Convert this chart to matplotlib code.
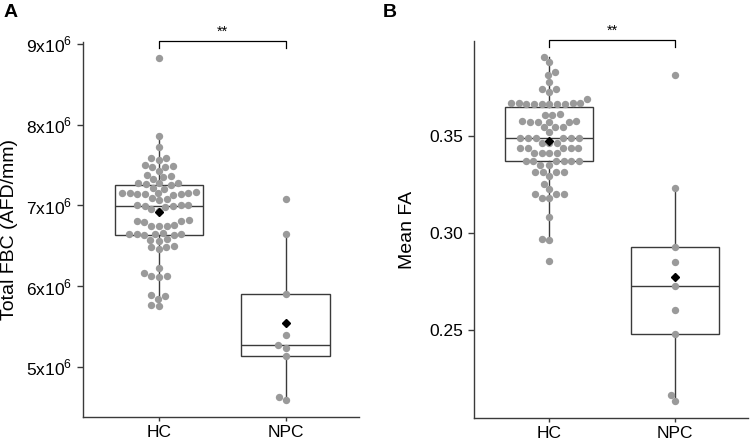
import matplotlib
matplotlib.use("Agg")
import matplotlib.pyplot as plt
import matplotlib.transforms as mtransforms
import numpy as np
import pandas as pd
import seaborn as sns

plt.rcParams['font.family'] = ['Liberation Sans', 'DejaVu Sans']
plt.rcParams['mathtext.fontset'] = 'custom'
plt.rcParams['mathtext.rm'] = 'Liberation Sans'

groups = ["HC", "NPC"]

# Panel A: total FBC, in units of 1e6
fbc_hc = [8.82, 7.855, 7.72, 7.59, 7.58, 7.56, 7.50, 7.49, 7.48, 7.47, 7.43,
          7.37, 7.36, 7.35, 7.33, 7.28, 7.27, 7.27, 7.26, 7.25, 7.22, 7.20,
          7.16, 7.15, 7.15, 7.15, 7.15, 7.14, 7.14, 7.14, 7.13, 7.09, 7.08, 7.06,
          7.01, 7.00, 7.00, 6.99, 6.99, 6.98, 6.95, 6.93, 6.82, 6.81, 6.80, 6.79,
          6.76, 6.75, 6.75, 6.74, 6.66, 6.65, 6.65, 6.64, 6.64, 6.63, 6.63,
          6.58, 6.57, 6.56, 6.50, 6.49, 6.48, 6.46, 6.22, 6.16, 6.13, 6.12, 6.11,
          5.89, 5.88, 5.84, 5.76, 5.75]
fbc_npc = [7.08, 6.65, 5.90, 5.40, 5.27, 5.24, 5.14, 4.63, 4.59]

# Panel B: mean FA
fa_hc = [0.3906, 0.388, 0.3831, 0.3814, 0.3777, 0.3745, 0.3745, 0.3728, 0.369,
         0.3672, 0.3670, 0.3669, 0.3668, 0.3667, 0.3666, 0.3666, 0.3665, 0.3664, 0.3663,
         0.361, 0.3608, 0.3612,
         0.3574, 0.3575, 0.3573, 0.3572, 0.3576, 0.3574,
         0.3548, 0.3547, 0.3549, 0.3522,
         0.349, 0.3489, 0.3491, 0.3488, 0.3492, 0.349,
         0.3464, 0.3463, 0.3465,
         0.3437, 0.3436, 0.3438, 0.3437, 0.3439,
         0.3411, 0.3410, 0.3412, 0.3411,
         0.3371, 0.3370, 0.3372, 0.3371, 0.3369, 0.3373,
         0.335, 0.3349, 0.3316, 0.3315, 0.3317, 0.3316, 0.3295,
         0.3251, 0.3225, 0.32, 0.3201, 0.3199, 0.3179, 0.318, 0.3084,
         0.2967, 0.2966, 0.2854]
fa_npc = [0.3816, 0.3234, 0.2929, 0.2849, 0.2727, 0.2603, 0.2478, 0.2165, 0.2134]

fbc_ticks = [5, 6, 7, 8, 9]
fa_ticks = [0.25, 0.30, 0.35]

point_col = "#9a9a9a"
line_col = "#3a3a3a"

fig = plt.figure(figsize=(7.5, 4.4), dpi=100)
axA = fig.add_axes([0.1107, 0.0523, 0.368, 0.852])
axB = fig.add_axes([0.632, 0.05, 0.3653, 0.8568])


def panel(ax, hc, npc, ylim, ticks, ticklabels, ylabel, label_x):
    df = pd.DataFrame({"group": ["HC"] * len(hc) + ["NPC"] * len(npc),
                       "value": hc + npc})
    ax.boxplot([hc, npc], positions=[0, 1], widths=0.7, showfliers=False,
               whis=1.5, patch_artist=True, zorder=1,
               boxprops=dict(facecolor="white", edgecolor=line_col, linewidth=1),
               medianprops=dict(color=line_col, linewidth=1),
               whiskerprops=dict(color=line_col, linewidth=1),
               capprops=dict(linewidth=0))
    sns.swarmplot(data=df, x="group", y="value", order=groups, color=point_col,
                  size=5.3, ax=ax, zorder=3, linewidth=0)
    ax.plot([0, 1], [np.mean(hc), np.mean(npc)], linestyle="none", marker="D",
            color="black", markersize=4.5, zorder=4)
    ax.set_xlim(-0.6, 1.58)
    ax.set_ylim(*ylim)
    ax.set_yticks(ticks)
    ax.set_yticklabels(ticklabels)
    ax.set_xticks([0, 1])
    ax.set_xticklabels(groups)
    ax.set_xlabel("")
    ax.set_ylabel(ylabel, fontsize=14)
    ax.yaxis.set_label_coords(label_x, 0.5)
    for s in ["top", "right"]:
        ax.spines[s].set_visible(False)
    for s in ["left", "bottom"]:
        ax.spines[s].set_color(line_col)
        ax.spines[s].set_linewidth(1)
    ax.tick_params(axis="y", length=4, width=1, color=line_col, labelsize=12.5, pad=4)
    ax.tick_params(axis="x", length=3, width=1, color=line_col, labelsize=12.5, pad=3)
    # significance bracket
    tr = mtransforms.blended_transform_factory(ax.transData, ax.transAxes)
    ax.plot([0, 0, 1, 1], [0.983, 1.0035, 1.0035, 0.983], color="black",
            linewidth=0.9, transform=tr, clip_on=False)
    ax.text(0.5, 1.008, "**", transform=tr, ha="center", va="bottom", fontsize=10.5)


panel(axA, fbc_hc, fbc_npc, (4.38, 9.02), fbc_ticks,
      [f"{t}x10$^{{6}}$" for t in fbc_ticks], "Total FBC (AFD/mm)", -0.235)
panel(axB, fa_hc, fa_npc, (0.2046, 0.399), fa_ticks,
      [f"{t:.2f}" for t in fa_ticks], "Mean FA", -0.21)

fig.text(0.005, 0.99, "A", fontsize=14, fontweight="bold", va="top", ha="left")
fig.text(0.511, 0.99, "B", fontsize=14, fontweight="bold", va="top", ha="left")

fig.savefig("out.png", dpi=100)
